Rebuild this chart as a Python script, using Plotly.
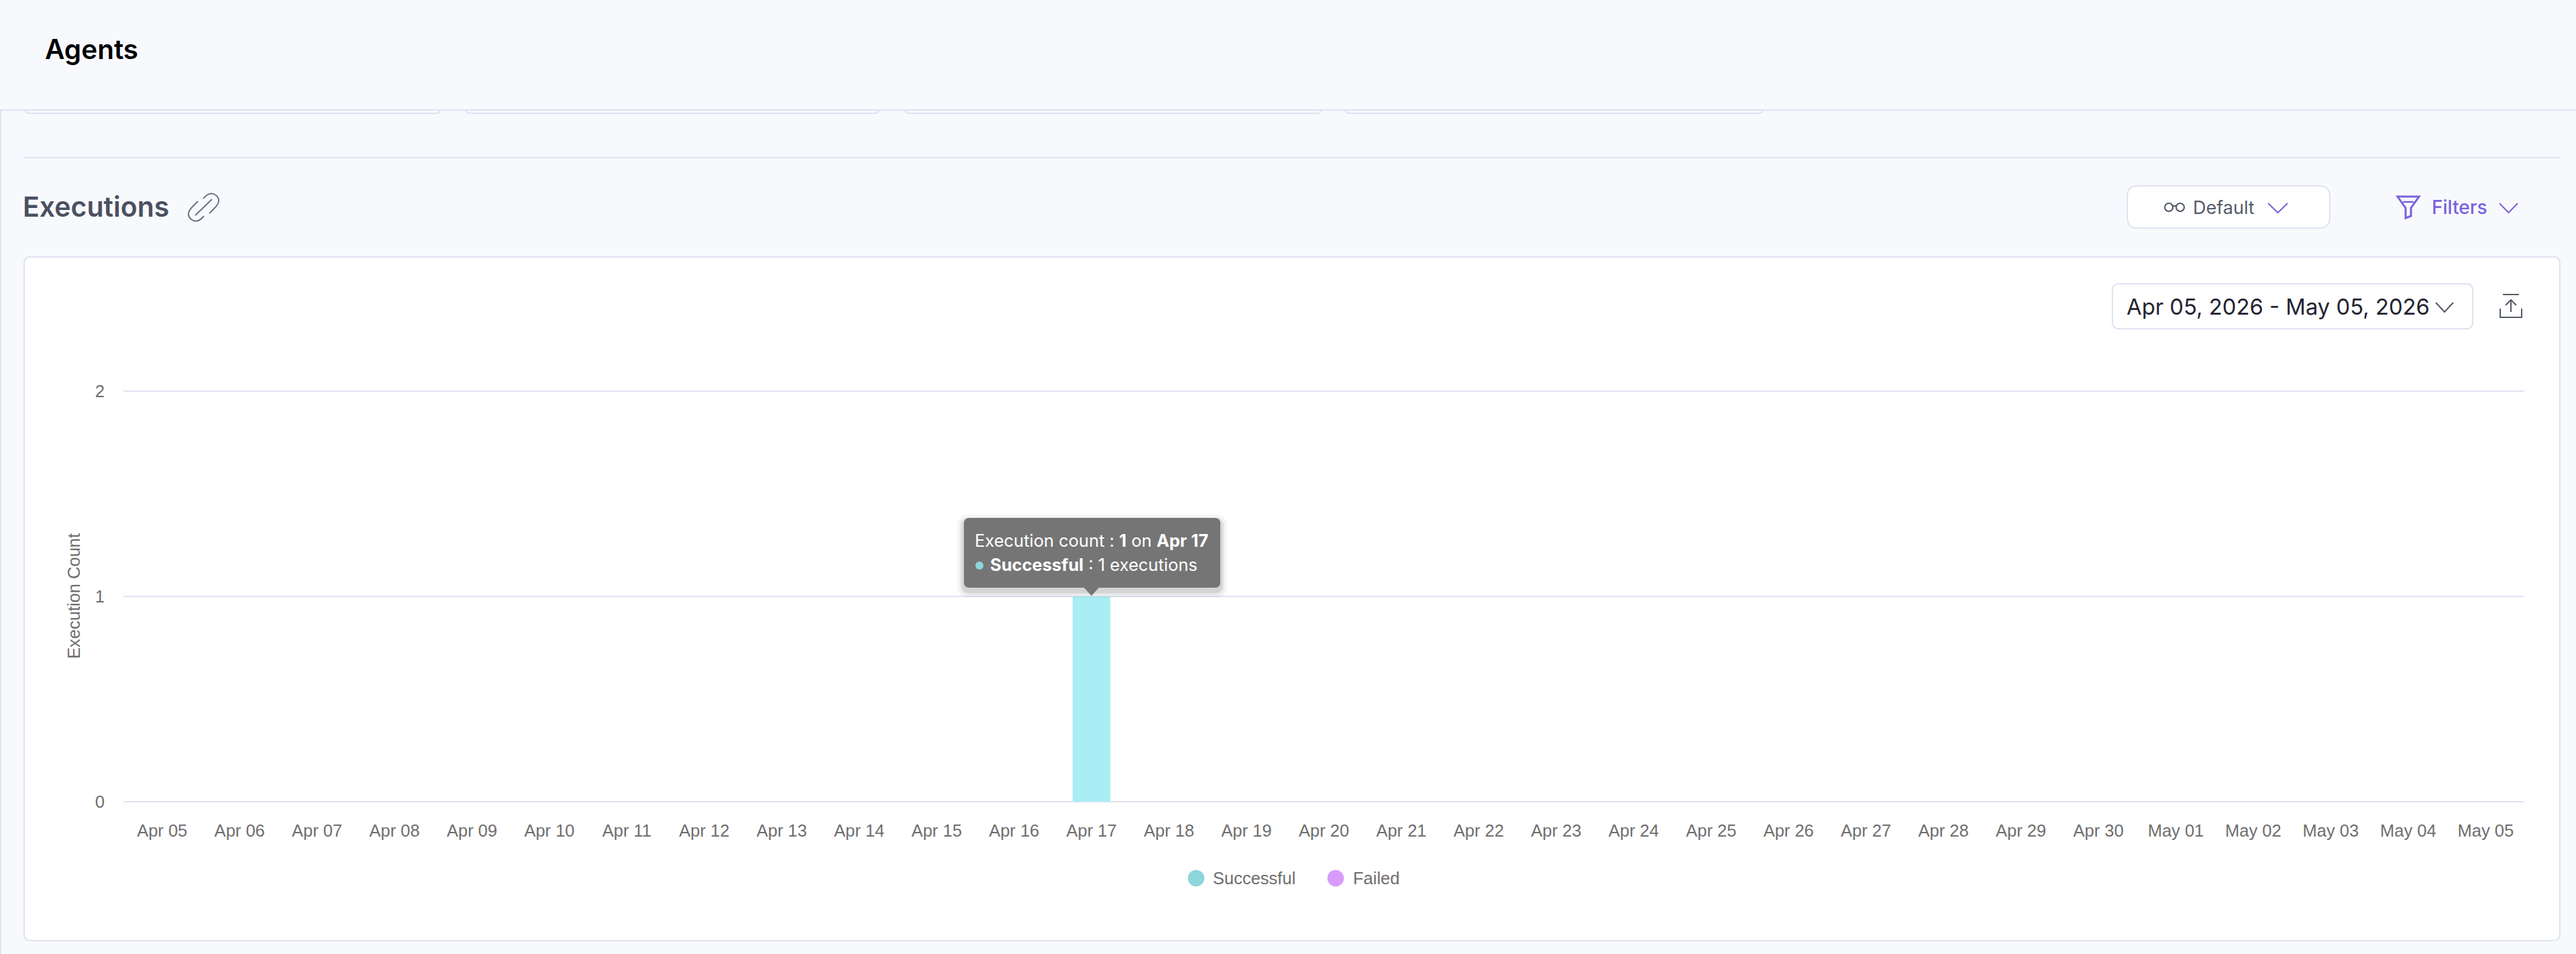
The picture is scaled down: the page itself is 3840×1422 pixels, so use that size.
import plotly.graph_objects as go

W = 3840
H = 1422

# Données
dates = ["Apr 05", "Apr 06", "Apr 07", "Apr 08", "Apr 09", "Apr 10", "Apr 11", "Apr 12",
         "Apr 13", "Apr 14", "Apr 15", "Apr 16", "Apr 17", "Apr 18", "Apr 19", "Apr 20",
         "Apr 21", "Apr 22", "Apr 23", "Apr 24", "Apr 25", "Apr 26", "Apr 27", "Apr 28",
         "Apr 29", "Apr 30", "May 01", "May 02", "May 03", "May 04", "May 05"]
successful = [0, 0, 0, 0, 0, 0, 0, 0, 0, 0, 0, 0, 1, 0, 0, 0,
              0, 0, 0, 0, 0, 0, 0, 0, 0, 0, 0, 0, 0, 0, 0]
failed = [0, 0, 0, 0, 0, 0, 0, 0, 0, 0, 0, 0, 0, 0, 0, 0,
          0, 0, 0, 0, 0, 0, 0, 0, 0, 0, 0, 0, 0, 0, 0]
y_ticks = [0, 1, 2]

PAGE_BG = "#f8f9fd"
BORDER = "#dfe3f1"
GREY = "#6e6e6e"
TEAL = "#8dd6dc"
PURPLE = "#d79bfb"
VIOLET = "#7763dc"
FONT_UI = "Inter"
FONT_CHART = "Liberation Sans"


def fx(x):
    return x / W


def fy(y):
    return 1 - y / H


def path(points):
    # liste de (commande, x, y...) en pixels -> chemin SVG en fraction de page
    out = []
    for p in points:
        if p == "Z":
            out.append("Z")
            continue
        cmd, coords = p[0], p[1:]
        vals = []
        for i in range(0, len(coords), 2):
            vals.append(f"{fx(coords[i]):.6f},{fy(coords[i + 1]):.6f}")
        out.append(cmd + " ".join(vals))
    return " ".join(out)


def rounded(x0, y0, x1, y1, r):
    return path([("M", x0 + r, y0), ("L", x1 - r, y0), ("Q", x1, y0, x1, y0 + r),
                 ("L", x1, y1 - r), ("Q", x1, y1, x1 - r, y1),
                 ("L", x0 + r, y1), ("Q", x0, y1, x0, y1 - r),
                 ("L", x0, y0 + r), ("Q", x0, y0, x0 + r, y0), "Z"])


shapes = []
annotations = []


def box(x0, y0, x1, y1, r, fill, line=None, width=2, layer="below"):
    shapes.append(dict(type="path", path=rounded(x0, y0, x1, y1, r), xref="paper", yref="paper",
                       fillcolor=fill, line=dict(color=line or fill, width=width if line else 0),
                       layer=layer))


def stroke(points, color, width=2, layer="above"):
    shapes.append(dict(type="path", path=path(points), xref="paper", yref="paper",
                       line=dict(color=color, width=width), layer=layer))


def circle(cx, cy, r, fill=None, line=None, width=2, layer="above"):
    shapes.append(dict(type="circle", xref="paper", yref="paper",
                       x0=fx(cx - r), x1=fx(cx + r), y0=fy(cy + r), y1=fy(cy - r),
                       fillcolor=fill or "rgba(0,0,0,0)",
                       line=dict(color=line or fill, width=width if line else 0), layer=layer))


def label(x, y, text, size, color, family=FONT_UI, anchor="left", weight=None):
    font = dict(size=size, color=color, family=family)
    if weight:
        font["weight"] = weight
    annotations.append(dict(x=fx(x), y=fy(y), xref="paper", yref="paper", text=text, showarrow=False,
                            xanchor=anchor, yanchor="middle", font=font, borderpad=0, borderwidth=0))


def chevron(x0, x1, y0, y1, color):
    stroke([("M", x0, y0), ("L", (x0 + x1) / 2, y1), ("L", x1, y0)], color, 2)


# Fond de page : bandeau, cartes coupées, carte du graphique
shapes.append(dict(type="line", xref="paper", yref="paper", x0=fx(1), x1=fx(1), y0=0, y1=1,
                   line=dict(color=BORDER, width=2), layer="below"))
for x0, x1 in [(38, 656), (695, 1310), (1349, 1969), (2006, 2628)]:
    box(x0, 150, x1, 169, 6, PAGE_BG, BORDER)
shapes.append(dict(type="rect", xref="paper", yref="paper", x0=0, x1=1, y0=fy(164), y1=1,
                   fillcolor=PAGE_BG, line=dict(width=0), layer="below"))
shapes.append(dict(type="line", xref="paper", yref="paper", x0=0, x1=1, y0=fy(164), y1=fy(164),
                   line=dict(color=BORDER, width=2), layer="below"))
shapes.append(dict(type="line", xref="paper", yref="paper", x0=fx(35), x1=fx(3816), y0=fy(235), y1=fy(235),
                   line=dict(color=BORDER, width=2), layer="below"))
box(36, 383, 3816, 1402, 10, "#ffffff", BORDER)

label(67, 74, "Agents", 40.5, "#000000", weight=600)
label(34, 308, "Executions", 41, "#4a5060", weight=600)

# Icône lien
link = "#6b7280"
stroke([("M", 303, 296), ("Q", 313, 284, 322, 291), ("Q", 331, 299, 320, 310), ("L", 312, 318)], link)
stroke([("M", 304, 322), ("Q", 294, 334, 285, 327), ("Q", 276, 319, 287, 308), ("L", 295, 300)], link)
stroke([("M", 291, 321), ("L", 316, 297)], link)

# Bouton Default
box(3171, 277, 3473, 340, 16, "#ffffff", BORDER)
circle(3233, 309, 6, line="#4b5563")
circle(3250, 309, 6, line="#4b5563")
stroke([("M", 3239, 307), ("L", 3244, 307)], "#4b5563")
label(3269, 309, "Default", 27, "#555b68")
chevron(3381, 3410, 303, 317, VIOLET)

# Filtres
stroke([("M", 3574, 293), ("L", 3606, 293), ("L", 3594, 310), ("L", 3594, 322), ("L", 3586, 325),
        ("L", 3586, 310), "Z"], VIOLET, 3)
stroke([("M", 3582, 301), ("L", 3598, 301)], VIOLET, 2.5)
label(3625, 309, "Filters", 28, VIOLET, weight=500)
chevron(3726, 3753, 303, 317, VIOLET)

# Sélecteur de dates et export
box(3149, 423, 3686, 490, 10, "#ffffff", BORDER)
label(3170, 457, "Apr 05, 2026 - May 05, 2026", 32.8, "#1f2430")
chevron(3631, 3657, 451, 465, "#555b68")
stroke([("M", 3731, 439), ("L", 3755, 439)], "#555b68")
stroke([("M", 3743, 465), ("L", 3743, 447), ("M", 3735, 455), ("L", 3743, 447), ("L", 3751, 455)], "#555b68")
stroke([("M", 3727, 460), ("L", 3727, 473), ("L", 3759, 473), ("L", 3759, 460)], "#555b68")

# Légende
circle(1783, 1309, 12.3, fill=TEAL)
label(1808, 1309, "Successful", 25.5, GREY, FONT_CHART)
circle(1991, 1309, 12.3, fill=PURPLE)
label(2017, 1309, "Failed", 25.5, GREY, FONT_CHART)

# Infobulle
for grow, alpha in [(10, 0.04), (6, 0.06), (3, 0.08)]:
    box(1437 - grow, 772 - grow + 5, 1819 + grow, 876 + grow + 5, 8 + grow, f"rgba(0,0,0,{alpha})", layer="above")
box(1437, 772, 1819, 876, 8, "#757575", layer="above")
shapes.append(dict(type="path", xref="paper", yref="paper", layer="above",
                   path=path([("M", 1615, 875), ("L", 1639, 875), ("L", 1627, 888), "Z"]),
                   fillcolor="#757575", line=dict(width=0)))
label(1453, 805, "Execution count : <b>1</b> on <b>Apr 17</b>", 25.5, "#ffffff")
circle(1460, 843, 6, fill=TEAL)
label(1476, 842, "<b>Successful</b> : 1 executions", 25.5, "#ffffff")

fig = go.Figure()
fig.add_trace(go.Bar(x=dates, y=successful, name="Successful", marker=dict(color="#a8eef4", line=dict(width=0)),
                     showlegend=False))
fig.add_trace(go.Bar(x=dates, y=failed, name="Failed", marker=dict(color=PURPLE, line=dict(width=0)),
                     showlegend=False))

fig.update_layout(
    width=W,
    height=H,
    margin=dict(l=0, r=0, t=0, b=0),
    barmode="stack",
    bargap=0.515,
    barcornerradius=3,
    paper_bgcolor=PAGE_BG,
    plot_bgcolor="rgba(0,0,0,0)",
    showlegend=False,
    shapes=shapes,
    annotations=annotations,
    font=dict(family=FONT_CHART, size=25.5, color=GREY),
    xaxis=dict(domain=[fx(184), fx(3763)], type="category", tickmode="array", tickvals=dates, ticktext=dates,
               showgrid=False, zeroline=False, showline=False, ticks="", ticklabelstandoff=25, automargin=False,
               tickfont=dict(family=FONT_CHART, size=25.5, color=GREY), tickangle=0),
    yaxis=dict(domain=[fy(1195), fy(581.8)], range=[0, 2.004], tickmode="array", tickvals=y_ticks,
               gridcolor=BORDER, gridwidth=2, zeroline=True, zerolinecolor=BORDER, zerolinewidth=2,
               showline=False, ticks="", ticklabelstandoff=27, automargin=False,
               tickfont=dict(family=FONT_CHART, size=25.5, color=GREY),
               title=dict(text="Execution Count", standoff=14, font=dict(family=FONT_CHART, size=25.5, color=GREY))),
)

fig.write_html("out.html", config=dict(displayModeBar=False),
               post_script="document.body.style.margin='0';document.body.style.overflow='hidden';")
